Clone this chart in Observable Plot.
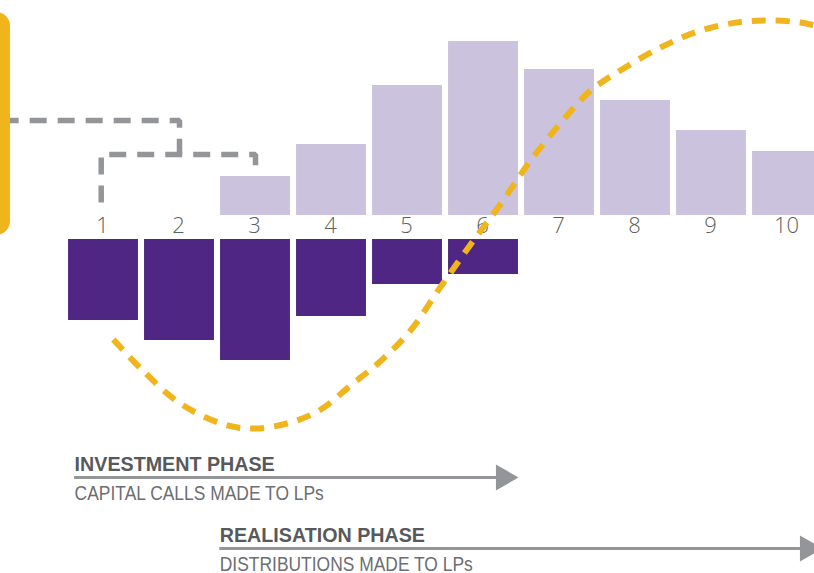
<!DOCTYPE html>
<html>
<head>
<meta charset="utf-8">
<script src="https://cdn.jsdelivr.net/npm/d3@7"></script>
<script src="https://cdn.jsdelivr.net/npm/@observablehq/plot@0.6"></script>
<style>
  html, body { margin: 0; padding: 0; background: #ffffff; }
  #chart svg { display: block; }
</style>
</head>
<body>
<div id="chart"></div>
<script>
// Fund years shown along the middle axis
const years = [1, 2, 3, 4, 5, 6, 7, 8, 9, 10];
const yearLabels = ["1", "2", "3", "4", "5", "6", "7", "8", "9", "10"];

// Distributions to LPs (upper bars), years 3–10
const distributionYears = [3, 4, 5, 6, 7, 8, 9, 10];
const distributionValues = [3.9, 7.1, 13.0, 17.4, 14.6, 11.5, 8.5, 6.4];

// Capital calls from LPs (lower bars), years 1–6
const callYears = [1, 2, 3, 4, 5, 6];
const callValues = [8.1, 10.1, 12.1, 7.7, 4.5, 3.5];

// Cumulative net cash flow (the J-curve)
const jCurveYears = [1.13, 1.49, 2.01, 2.61, 3.00, 3.46, 3.86, 4.25, 4.64, 5.04, 5.43, 5.83,
                     6.22, 6.62, 7.01, 7.41, 7.80, 8.33, 8.86, 9.38, 9.78, 10.17, 10.36, 10.70];
const jCurveValues = [-12.4, -15.3, -18.8, -20.95, -21.3, -20.7, -19.4, -17.0, -14.6, -11.5, -7.2, -2.9,
                      1.1, 5.5, 9.2, 12.5, 14.5, 16.8, 18.5, 19.35, 19.5, 19.3, 19.0, 18.4];

// Bracket from the callout to the first three years
const bracketPath = ["a", "a", "a", "b", "b", "b", "b"];
const bracketYears = [-0.34, 2.0, 2.0, 0.97, 0.97, 3.0, 3.0];
const bracketLevels = [9.5, 9.5, 6.1, 1.3, 6.1, 6.1, 4.5];

// Callout panel edge at the left
const calloutX1 = [-1.5];
const calloutX2 = [-0.224];
const calloutY1 = [-2.0];
const calloutY2 = [20.3];

// Phase arrows
const phaseNames = ["INVESTMENT PHASE", "REALISATION PHASE"];
const phaseNotes = ["CAPITAL CALLS MADE TO LPs", "DISTRIBUTIONS MADE TO LPs"];
const phaseStart = [0.62, 2.53];
const phaseEnd = [6.46, 10.46];
const phaseLevel = [-26.2, -33.3];

// Tables built from the arrays above
const distributions = distributionYears.map((year, i) => ({year, value: distributionValues[i]}));
const calls = callYears.map((year, i) => ({year, value: callValues[i]}));
const jCurve = jCurveYears.map((year, i) => ({year, value: jCurveValues[i]}));
const bracket = bracketPath.map((path, i) => ({path, year: bracketYears[i], level: bracketLevels[i]}));
const callout = calloutX1.map((x1, i) => ({x1, x2: calloutX2[i], y1: calloutY1[i], y2: calloutY2[i]}));
const phases = phaseNames.map((name, i) => ({
  name, note: phaseNotes[i], start: phaseStart[i], end: phaseEnd[i], level: phaseLevel[i]
}));
const ticks = years.map((year, i) => ({year, label: yearLabels[i]}));

const LIGHT = "#CBC3DD";
const DARK = "#4F2683";
const GOLD = "#F0B41C";
const GREY = "#939598";
const TEXT_DARK = "#58595B";
const TEXT = "#6D6E71";
const HALF_BAR = 0.46;
const HEAD = 0.26;
const PHASE_FONT = "'Liberation Sans', Arial, sans-serif";

const chart = Plot.plot({
  width: 814,
  height: 573,
  margin: 0,
  x: {domain: [-0.3553, 10.3553], axis: null},
  y: {domain: [-35.8, 21.5], axis: null},
  marks: [
    // distributions above the axis
    Plot.rect(distributions, {
      x1: d => d.year - HALF_BAR, x2: d => d.year + HALF_BAR,
      y1: 0, y2: "value", fill: LIGHT
    }),
    // capital calls below the axis
    Plot.rect(calls, {
      x1: d => d.year - HALF_BAR, x2: d => d.year + HALF_BAR,
      y1: 0, y2: d => -d.value, dy: 24, fill: DARK
    }),
    // year labels
    Plot.text(ticks, {
      x: "year", y: 0, dy: 10, dx: -1, text: "label",
      fontSize: 22, fontWeight: 300, fill: "#5E5F61",
      fontFamily: "'Open Sans', Roboto, sans-serif"
    }),
    // dashed bracket
    Plot.line(bracket, {
      x: "year", y: "level", z: "path",
      stroke: GREY, strokeWidth: 5.5, strokeDasharray: "17 11",
      strokeLinejoin: "miter", strokeLinecap: "butt"
    }),
    // callout panel
    Plot.rect(callout, {x1: "x1", x2: "x2", y1: "y1", y2: "y2", fill: GOLD, rx: 14}),
    // J-curve
    Plot.line(jCurve, {
      x: "year", y: "value", curve: "catmull-rom",
      stroke: GOLD, strokeWidth: 6, strokeDasharray: "14 10", strokeLinecap: "butt"
    }),
    // phase arrows
    Plot.ruleY(phases, {
      y: "level", x1: "start", x2: d => d.end - HEAD,
      stroke: GREY, strokeWidth: 3
    }),
    Plot.dot(phases, {
      x: "end", y: "level", symbol: "triangle", r: 9.65, rotate: 90, dx: -15,
      fill: GREY, stroke: "none"
    }),
    Plot.text(phases, {
      x: "start", y: "level", text: "name", textAnchor: "start", lineAnchor: "bottom",
      dy: -7, fontSize: 20.5, fontWeight: "bold", fill: TEXT_DARK, fontFamily: PHASE_FONT,
      className: "phase-name"
    }),
    Plot.text(phases, {
      x: "start", y: "level", text: "note", textAnchor: "start", lineAnchor: "bottom",
      dy: 22, fontSize: 20.5, fill: TEXT, fontFamily: PHASE_FONT,
      className: "phase-note"
    })
  ]
});

document.getElementById("chart").append(chart);

// Narrow the phase captions to a condensed set width
function condense(selector, factor) {
  chart.querySelectorAll(selector + " text").forEach(el => {
    const w = el.getComputedTextLength();
    el.setAttribute("textLength", (w * factor).toFixed(1));
    el.setAttribute("lengthAdjust", "spacingAndGlyphs");
  });
}
condense(".phase-name", 0.96);
condense(".phase-note", 0.85);
</script>
</body>
</html>
